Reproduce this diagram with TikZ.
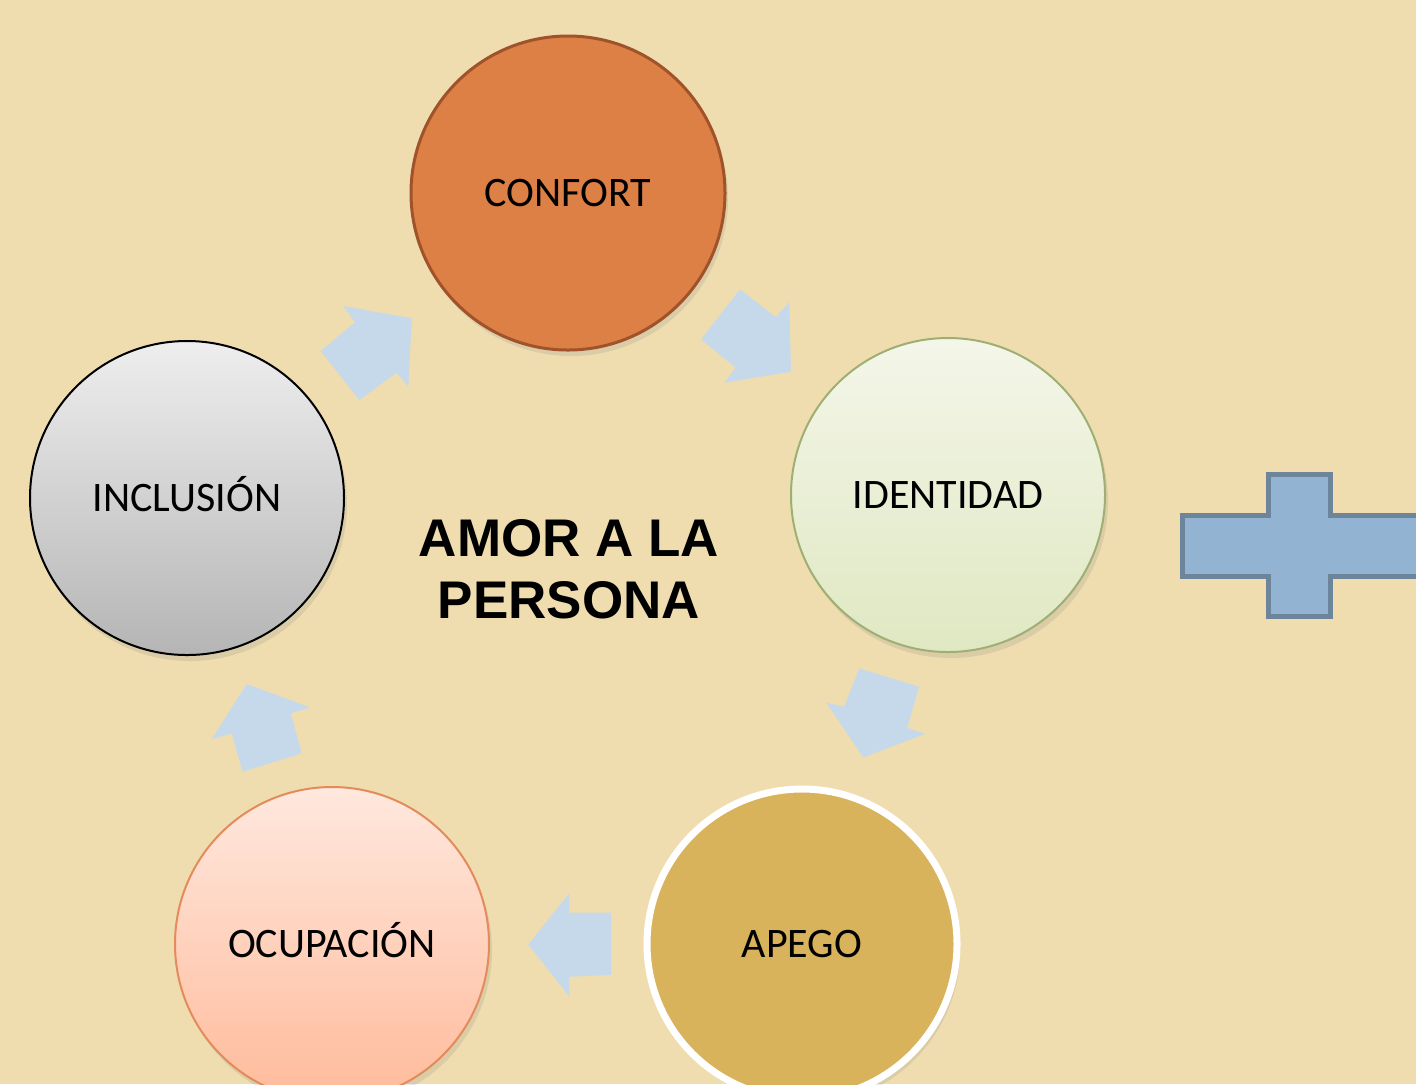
\documentclass[tikz,border=0pt]{standalone}
\usepackage{fontspec}
\setmainfont{Carlito}
\newfontfamily\titlefont{Liberation Sans}
\usetikzlibrary{shadows}
\definecolor{bgparch}{RGB}{239,221,175}
\definecolor{arrowblue}{RGB}{198,217,234}
\definecolor{crossfill}{RGB}{147,179,211}
\definecolor{crossline}{RGB}{108,133,155}
\definecolor{confortfill}{RGB}{220,128,70}
\definecolor{confortline}{RGB}{160,82,42}
\definecolor{identtop}{RGB}{244,246,233}
\definecolor{identbot}{RGB}{223,232,194}
\definecolor{identline}{RGB}{159,174,115}
\definecolor{incltop}{RGB}{238,238,238}
\definecolor{inclbot}{RGB}{181,181,181}
\definecolor{ocuptop}{RGB}{255,232,222}
\definecolor{ocupbot}{RGB}{255,187,155}
\definecolor{ocupline}{RGB}{228,139,92}
\definecolor{apegofill}{RGB}{217,178,92}
\begin{document}
\begin{tikzpicture}[x=0.5pt,y=-0.5pt,
  bubble/.style={circle, minimum size=157pt, inner sep=0pt, font=\fontsize{21}{25}\selectfont,
    text height=13.5pt, text depth=0pt,
    drop shadow={opacity=0.18, shadow xshift=1.5pt, shadow yshift=-3pt}},
  blockarrow/.style={fill=arrowblue, draw=none},
  titletext/.style={font=\titlefont\bfseries\fontsize{26.5}{31}\selectfont, align=center}]
\fill[bgparch] (0,0) rectangle (1416,1084);
\useasboundingbox (0,0) rectangle (1416,1084);

% circles
\node[bubble, fill=confortfill, draw=confortline, line width=1.5pt] (confort) at (568,193) {CONFORT};
\node[bubble, top color=identtop, bottom color=identbot, draw=identline, line width=1pt] (ident) at (948,495) {IDENTIDAD};
\node[bubble, top color=incltop, bottom color=inclbot, draw=black, line width=1pt] (incl) at (187,498) {INCLUSIÓN};
\node[bubble, top color=ocuptop, bottom color=ocupbot, draw=ocupline, line width=1pt] (ocup) at (332,944) {OCUPACIÓN};
\node[bubble, fill=apegofill, draw=white, line width=3.5pt, minimum size=155pt] (apego) at (802,944) {APEGO};

% title
\node[titletext] (title) at (569,569) {AMOR A LA\\PERSONA};

% block arrows
\fill[blockarrow] (320.7,351) -- (355,322.3) -- (343.3,306) -- (411.7,318.3) -- (408.3,386.7) -- (396.7,372.7) -- (359.3,400) -- cycle;
\fill[blockarrow] (701,339.3) -- (740,289.3) -- (776,317.3) -- (789.3,301.7) -- (791,371.7) -- (724.3,382.7) -- (735.7,367.7) -- cycle;
\fill[blockarrow] (859.3,668.3) -- (919,686.7) -- (907.3,727.7) -- (925,734) -- (863.3,757.3) -- (826,702.3) -- (844,706.7) -- cycle;
\fill[blockarrow] (569.3,893.3) -- (569.3,912.7) -- (611,912.7) -- (611,975) -- (569.3,976.7) -- (569.3,996.7) -- (528.3,944.3) -- cycle;
\fill[blockarrow] (246.7,684) -- (310,707.3) -- (290.7,713.3) -- (301.7,753.3) -- (242.7,771.7) -- (231.7,733.3) -- (211.7,739.3) -- cycle;

% cross
\begin{scope}
\clip (0,0) rectangle (1416,1084);
\draw[fill=crossfill, draw=crossline, line width=2.5pt]
  (1182,515) -- (1268.5,515) -- (1268.5,474) -- (1330,474) -- (1330,515) -- (1430,515)
  -- (1430,576) -- (1330,576) -- (1330,616.5) -- (1268.5,616.5) -- (1268.5,576) -- (1182,576) -- cycle;
\end{scope}
\end{tikzpicture}
\end{document}
